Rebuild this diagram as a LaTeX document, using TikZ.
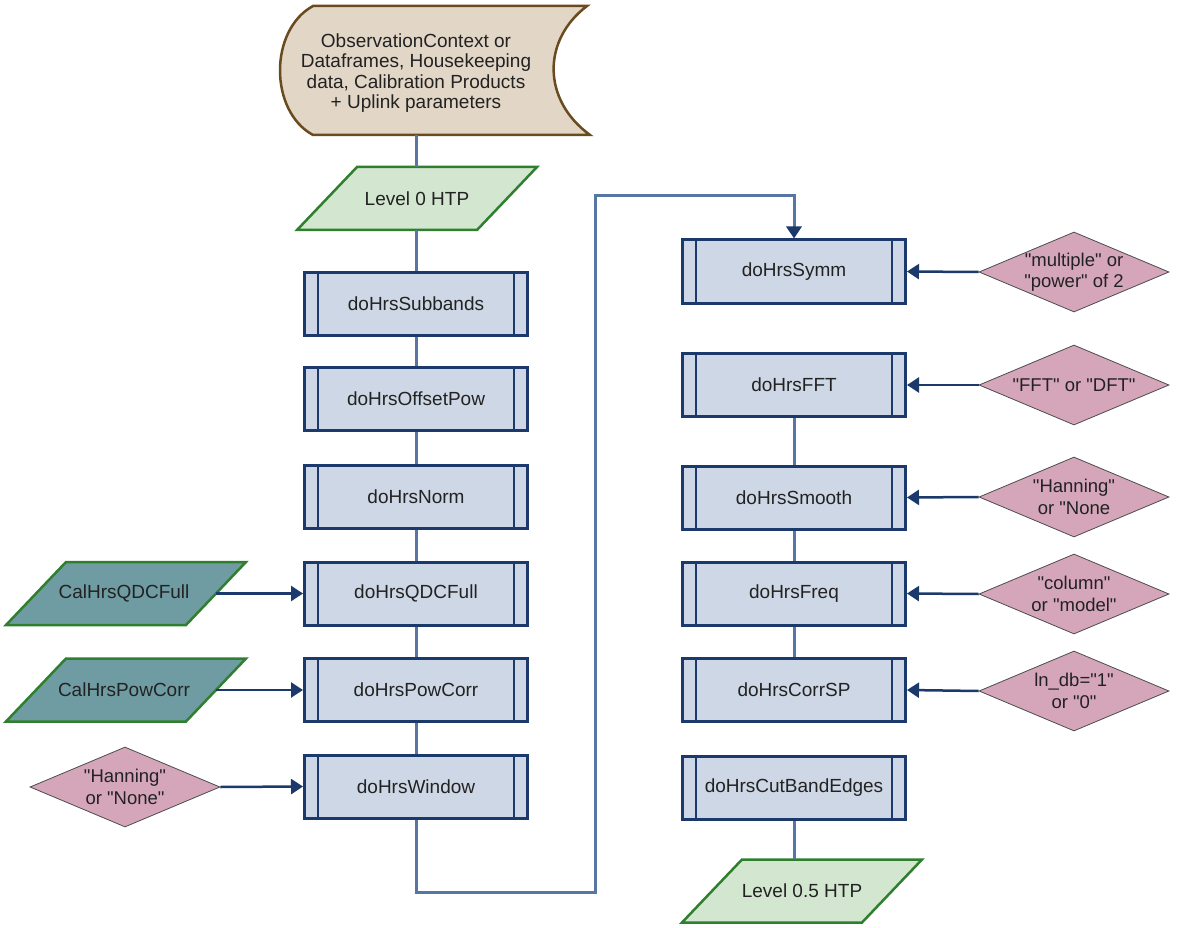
\documentclass[tikz,border=0pt]{standalone}
\usepackage{fontspec}
\setmainfont{Liberation Sans}
\usetikzlibrary{shapes.geometric,arrows.meta,calc}
\definecolor{navy}{HTML}{1B3A6B}
\definecolor{boxfill}{HTML}{CED7E5}
\definecolor{conn}{HTML}{5776A3}
\definecolor{lvlfill}{HTML}{D3E7D0}
\definecolor{lvlborder}{HTML}{2F7F2F}
\definecolor{calfill}{HTML}{6F9CA3}
\definecolor{diafill}{HTML}{D5A6B9}
\definecolor{srcfill}{HTML}{E2D6C7}
\definecolor{srcborder}{HTML}{6A4A1F}
\definecolor{txt}{HTML}{222222}
\newcommand{\dq}{\textquotedbl}
% parallelogram outline: #1 x, #2 y (centre), #3 fill colour
\newcommand{\pgram}[3]{%
  \draw[pgramline, fill=#3] (#1-120,#2+31.5) -- (#1+60,#2+31.5)
    -- (#1+120,#2-31.5) -- (#1-60,#2-31.5) -- cycle;}
\begin{document}
\begin{tikzpicture}[x=1pt,y=-1pt,
  proc/.style={rectangle, draw=navy, line width=3pt, fill=boxfill,
    minimum width=223pt, minimum height=63pt, inner sep=0pt,
    font=\fontsize{19}{23}\selectfont, text=txt},
  plate/.style={rectangle, minimum width=180pt, minimum height=63pt, inner sep=0pt,
    font=\fontsize{19}{23}\selectfont, text=txt},
  pgramline/.style={draw=lvlborder, line width=2.5pt},
  dec/.style={diamond, draw=black!70, line width=0.8pt, fill=diafill,
    minimum width=190pt, minimum height=80pt, inner sep=0pt,
    label={[align=center, font=\fontsize{18.5}{21.5}\selectfont, text=txt]center:#1}},
  link/.style={draw=conn, line width=3pt},
  feed/.style={draw=navy, line width=2.5pt, -{Triangle[length=12pt,width=15pt]}},
  bar/.style={draw=navy, line width=2.5pt}
]
\useasboundingbox[fill=white] (0,0) rectangle (1200,928);

% source (stored data) shape
\draw[fill=srcfill, draw=srcborder, line width=2.5pt]
  (313,6) -- (587,6) .. controls (542,40) and (542,100) .. (590,135)
  -- (313,135) .. controls (269,111) and (269,30) .. (313,6) -- cycle;
\node[align=center, font=\fontsize{19}{20.5}\selectfont, text=txt] (srct) at (416,73)
  {ObservationContext or\\Dataframes, Housekeeping\\data, Calibration Products\\+ Uplink parameters};
\coordinate (srcb) at (416,135);

\pgram{417}{198.5}{lvlfill}
\node[plate] (l0) at (417,198.5) {Level 0 HTP};

% left column
\node[proc] (sub) at (416,304) {doHrsSubbands};
\node[proc] (off) at (416,399) {doHrsOffsetPow};
\node[proc] (nrm) at (416,497) {doHrsNorm};
\node[proc] (qdc) at (416,593.5) {doHrsQDCFull};
\node[proc] (pcr) at (416,690) {doHrsPowCorr};
\node[proc] (win) at (416,786.5) {doHrsWindow};

% right column
\node[proc] (sym) at (794,271.5) {doHrsSymm};
\node[proc] (fft) at (794,385) {doHrsFFT};
\node[proc] (smo) at (794,497.5) {doHrsSmooth};
\node[proc] (frq) at (794,593.5) {doHrsFreq};
\node[proc] (csp) at (794,690) {doHrsCorrSP};
\node[proc] (cbe) at (794,787.5) {doHrsCutBandEdges};

\pgram{802}{891}{lvlfill}
\node[plate] (l05) at (802,891) {Level 0.5 HTP};

% inner bars of process boxes
\foreach \n in {sub,off,nrm,qdc,pcr,win,sym,fft,smo,frq,csp,cbe}{
  \draw[bar] ($(\n.north west)+(15,0)$) -- ($(\n.south west)+(15,0)$);
  \draw[bar] ($(\n.north east)+(-15,0)$) -- ($(\n.south east)+(-15,0)$);
}

% left inputs
\pgram{126}{593.5}{calfill}
\node[plate] (cq) at (124,593.5) {CalHrsQDCFull};
\pgram{126}{690}{calfill}
\node[plate] (cp) at (124,690) {CalHrsPowCorr};
\node[dec={\dq Hanning\dq\\or \dq None\dq}] (dw) at (125,787) {};

% right inputs
\node[dec={\dq multiple\dq{} or\\\dq power\dq{} of 2}] (dsy) at (1074,272) {};
\node[dec={\dq FFT\dq{} or \dq DFT\dq}] (dff) at (1074,385) {};
\node[dec={\dq Hanning\dq\\or \dq None}] (dsm) at (1074,497) {};
\node[dec={\dq column\dq\\or \dq model\dq}] (dfr) at (1074,594) {};
\node[dec={ln\_db=\dq 1\dq\\or \dq 0\dq}] (dcs) at (1074,691) {};

% connectors
\draw[link] (srcb) -- (srcb |- l0.north);
\draw[link] (l0.south -| sub.north) -- (sub);
\draw[link] (sub) -- (off);
\draw[link] (off) -- (nrm);
\draw[link] (nrm) -- (qdc);
\draw[link] (qdc) -- (pcr);
\draw[link] (pcr) -- (win);
\draw[link, -{Triangle[length=12pt,width=15pt,color=navy]}]
  (win.south) -- ++(0,73) -| (595,196) -| (sym.north);
\draw[link] (fft) -- (smo);
\draw[link] (smo) -- (frq);
\draw[link] (frq) -- (csp);
\draw[link] (cbe.south) -- (cbe.south |- l05.north);

\draw[feed] (cq.east -| 216,0) -- (qdc.west);
\draw[feed] (cp.east -| 216,0) -- (pcr.west);
\draw[feed] (dw.east) -- (win.west);
\draw[feed] (dsy.west) -- (sym.east);
\draw[feed] (dff.west) -- (fft.east);
\draw[feed] (dsm.west) -- (smo.east);
\draw[feed] (dfr.west) -- (frq.east);
\draw[feed] (dcs.west) -- (csp.east);
\end{tikzpicture}
\end{document}
